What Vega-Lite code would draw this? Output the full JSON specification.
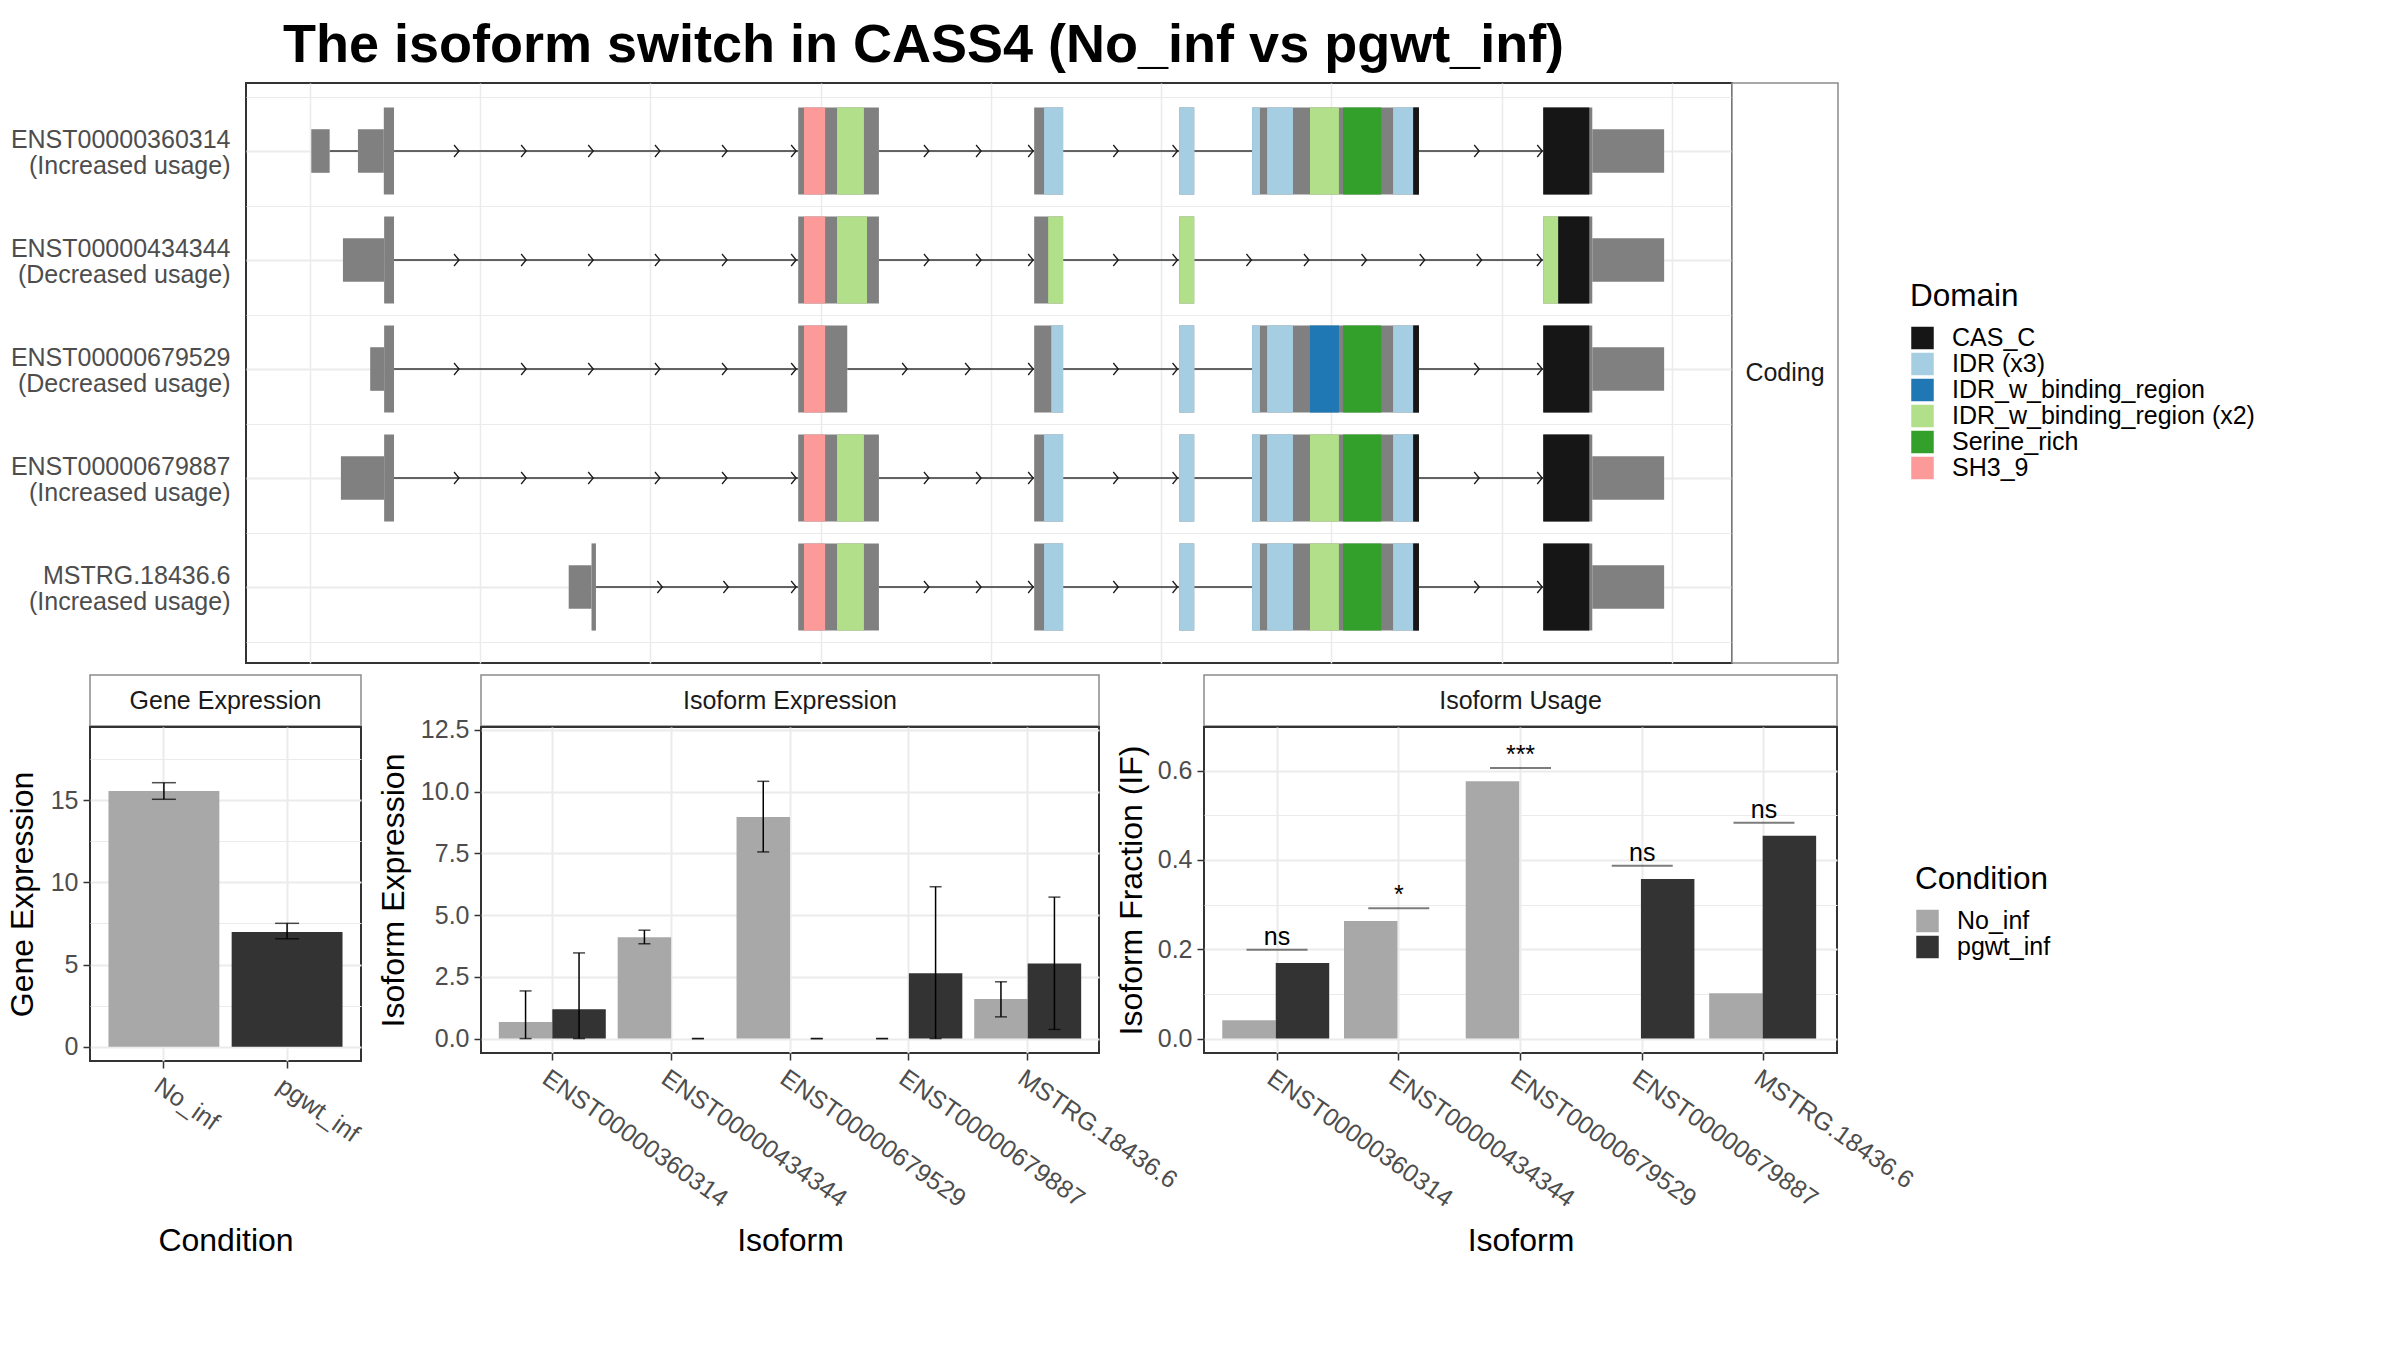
{
  "$schema": "https://vega.github.io/schema/vega-lite/v6.json",
  "background": "white",
  "padding": {"left": 5, "top": 19, "right": 0, "bottom": 0},
  "config": {
    "font": "Liberation Sans",
    "view": {"stroke": "#333333", "strokeWidth": 2},
    "axis": {"labelFontSize": 25, "labelColor": "#4D4D4D", "titleFontSize": 32, "titleColor": "black", "titleFontWeight": "normal", "tickColor": "#333333", "tickSize": 7, "tickWidth": 1.5, "domain": false, "gridColor": "#EBEBEB", "gridWidth": 2, "labelLimit": 0, "labelPadding": 5, "labelOverlap": false},
    "legend": {"padding": 0, "symbolType": "square", "symbolStrokeWidth": 0, "labelFontSize": 25, "labelColor": "black", "titleFontSize": 31.5, "titleFontWeight": "normal", "titleColor": "black", "rowPadding": -4, "labelOffset": 17, "titlePadding": 13, "symbolSize": 506, "labelLimit": 0}
  },
  "title": {"text": "The isoform switch in CASS4 (No_inf vs pgwt_inf)", "anchor": "start", "frame": "group", "dx": 193, "fontSize": 54, "fontWeight": "bold", "color": "black", "offset": 9},
  "datasets": {
    "utr": [
      {"tx": "ENST00000360314\n(Increased usage)", "s": 4, "e": 58},
      {"tx": "ENST00000360314\n(Increased usage)", "s": 141, "e": 217},
      {"tx": "ENST00000360314\n(Increased usage)", "s": 3766, "e": 3977},
      {"tx": "ENST00000434344\n(Decreased usage)", "s": 97, "e": 218},
      {"tx": "ENST00000434344\n(Decreased usage)", "s": 3766, "e": 3977},
      {"tx": "ENST00000679529\n(Decreased usage)", "s": 177, "e": 218},
      {"tx": "ENST00000679529\n(Decreased usage)", "s": 3766, "e": 3977},
      {"tx": "ENST00000679887\n(Increased usage)", "s": 91, "e": 218},
      {"tx": "ENST00000679887\n(Increased usage)", "s": 3766, "e": 3977},
      {"tx": "MSTRG.18436.6\n(Increased usage)", "s": 760, "e": 827},
      {"tx": "MSTRG.18436.6\n(Increased usage)", "s": 3766, "e": 3977}
    ],
    "cds": [
      {"tx": "ENST00000360314\n(Increased usage)", "s": 217, "e": 247},
      {"tx": "ENST00000360314\n(Increased usage)", "s": 1434, "e": 1671},
      {"tx": "ENST00000360314\n(Increased usage)", "s": 2127, "e": 2212},
      {"tx": "ENST00000360314\n(Increased usage)", "s": 2553, "e": 2597},
      {"tx": "ENST00000360314\n(Increased usage)", "s": 2767, "e": 3257},
      {"tx": "ENST00000360314\n(Increased usage)", "s": 3622, "e": 3766},
      {"tx": "ENST00000434344\n(Decreased usage)", "s": 218, "e": 247},
      {"tx": "ENST00000434344\n(Decreased usage)", "s": 1434, "e": 1671},
      {"tx": "ENST00000434344\n(Decreased usage)", "s": 2127, "e": 2212},
      {"tx": "ENST00000434344\n(Decreased usage)", "s": 2553, "e": 2597},
      {"tx": "ENST00000434344\n(Decreased usage)", "s": 3622, "e": 3766},
      {"tx": "ENST00000679529\n(Decreased usage)", "s": 218, "e": 247},
      {"tx": "ENST00000679529\n(Decreased usage)", "s": 1434, "e": 1578},
      {"tx": "ENST00000679529\n(Decreased usage)", "s": 2127, "e": 2212},
      {"tx": "ENST00000679529\n(Decreased usage)", "s": 2553, "e": 2597},
      {"tx": "ENST00000679529\n(Decreased usage)", "s": 2767, "e": 3257},
      {"tx": "ENST00000679529\n(Decreased usage)", "s": 3622, "e": 3766},
      {"tx": "ENST00000679887\n(Increased usage)", "s": 218, "e": 247},
      {"tx": "ENST00000679887\n(Increased usage)", "s": 1434, "e": 1671},
      {"tx": "ENST00000679887\n(Increased usage)", "s": 2127, "e": 2212},
      {"tx": "ENST00000679887\n(Increased usage)", "s": 2553, "e": 2597},
      {"tx": "ENST00000679887\n(Increased usage)", "s": 2767, "e": 3257},
      {"tx": "ENST00000679887\n(Increased usage)", "s": 3622, "e": 3766},
      {"tx": "MSTRG.18436.6\n(Increased usage)", "s": 827, "e": 840},
      {"tx": "MSTRG.18436.6\n(Increased usage)", "s": 1434, "e": 1671},
      {"tx": "MSTRG.18436.6\n(Increased usage)", "s": 2127, "e": 2212},
      {"tx": "MSTRG.18436.6\n(Increased usage)", "s": 2553, "e": 2597},
      {"tx": "MSTRG.18436.6\n(Increased usage)", "s": 2767, "e": 3257},
      {"tx": "MSTRG.18436.6\n(Increased usage)", "s": 3622, "e": 3766}
    ],
    "domains": [
      {"tx": "ENST00000360314\n(Increased usage)", "domain": "SH3_9", "s": 1451, "e": 1513},
      {"tx": "ENST00000360314\n(Increased usage)", "domain": "IDR_w_binding_region (x2)", "s": 1548, "e": 1627},
      {"tx": "ENST00000360314\n(Increased usage)", "domain": "IDR (x3)", "s": 2156, "e": 2212},
      {"tx": "ENST00000360314\n(Increased usage)", "domain": "IDR (x3)", "s": 2553, "e": 2597},
      {"tx": "ENST00000360314\n(Increased usage)", "domain": "IDR (x3)", "s": 2767, "e": 2790},
      {"tx": "ENST00000360314\n(Increased usage)", "domain": "IDR (x3)", "s": 2811, "e": 2887},
      {"tx": "ENST00000360314\n(Increased usage)", "domain": "IDR_w_binding_region (x2)", "s": 2937, "e": 3022},
      {"tx": "ENST00000360314\n(Increased usage)", "domain": "Serine_rich", "s": 3034, "e": 3146},
      {"tx": "ENST00000360314\n(Increased usage)", "domain": "IDR (x3)", "s": 3181, "e": 3240},
      {"tx": "ENST00000360314\n(Increased usage)", "domain": "CAS_C", "s": 3240, "e": 3257},
      {"tx": "ENST00000360314\n(Increased usage)", "domain": "CAS_C", "s": 3622, "e": 3757},
      {"tx": "ENST00000434344\n(Decreased usage)", "domain": "SH3_9", "s": 1451, "e": 1513},
      {"tx": "ENST00000434344\n(Decreased usage)", "domain": "IDR_w_binding_region (x2)", "s": 1548, "e": 1636},
      {"tx": "ENST00000434344\n(Decreased usage)", "domain": "IDR_w_binding_region (x2)", "s": 2168, "e": 2212},
      {"tx": "ENST00000434344\n(Decreased usage)", "domain": "IDR_w_binding_region (x2)", "s": 2553, "e": 2597},
      {"tx": "ENST00000434344\n(Decreased usage)", "domain": "IDR_w_binding_region (x2)", "s": 3622, "e": 3666},
      {"tx": "ENST00000434344\n(Decreased usage)", "domain": "CAS_C", "s": 3666, "e": 3757},
      {"tx": "ENST00000679529\n(Decreased usage)", "domain": "SH3_9", "s": 1451, "e": 1513},
      {"tx": "ENST00000679529\n(Decreased usage)", "domain": "IDR (x3)", "s": 2177, "e": 2212},
      {"tx": "ENST00000679529\n(Decreased usage)", "domain": "IDR (x3)", "s": 2553, "e": 2597},
      {"tx": "ENST00000679529\n(Decreased usage)", "domain": "IDR (x3)", "s": 2767, "e": 2790},
      {"tx": "ENST00000679529\n(Decreased usage)", "domain": "IDR (x3)", "s": 2811, "e": 2887},
      {"tx": "ENST00000679529\n(Decreased usage)", "domain": "IDR_w_binding_region", "s": 2937, "e": 3022},
      {"tx": "ENST00000679529\n(Decreased usage)", "domain": "Serine_rich", "s": 3034, "e": 3146},
      {"tx": "ENST00000679529\n(Decreased usage)", "domain": "IDR (x3)", "s": 3181, "e": 3240},
      {"tx": "ENST00000679529\n(Decreased usage)", "domain": "CAS_C", "s": 3240, "e": 3257},
      {"tx": "ENST00000679529\n(Decreased usage)", "domain": "CAS_C", "s": 3622, "e": 3757},
      {"tx": "ENST00000679887\n(Increased usage)", "domain": "SH3_9", "s": 1451, "e": 1513},
      {"tx": "ENST00000679887\n(Increased usage)", "domain": "IDR_w_binding_region (x2)", "s": 1548, "e": 1627},
      {"tx": "ENST00000679887\n(Increased usage)", "domain": "IDR (x3)", "s": 2156, "e": 2212},
      {"tx": "ENST00000679887\n(Increased usage)", "domain": "IDR (x3)", "s": 2553, "e": 2597},
      {"tx": "ENST00000679887\n(Increased usage)", "domain": "IDR (x3)", "s": 2767, "e": 2790},
      {"tx": "ENST00000679887\n(Increased usage)", "domain": "IDR (x3)", "s": 2811, "e": 2887},
      {"tx": "ENST00000679887\n(Increased usage)", "domain": "IDR_w_binding_region (x2)", "s": 2937, "e": 3022},
      {"tx": "ENST00000679887\n(Increased usage)", "domain": "Serine_rich", "s": 3034, "e": 3146},
      {"tx": "ENST00000679887\n(Increased usage)", "domain": "IDR (x3)", "s": 3181, "e": 3240},
      {"tx": "ENST00000679887\n(Increased usage)", "domain": "CAS_C", "s": 3240, "e": 3257},
      {"tx": "ENST00000679887\n(Increased usage)", "domain": "CAS_C", "s": 3622, "e": 3757},
      {"tx": "MSTRG.18436.6\n(Increased usage)", "domain": "SH3_9", "s": 1451, "e": 1513},
      {"tx": "MSTRG.18436.6\n(Increased usage)", "domain": "IDR_w_binding_region (x2)", "s": 1548, "e": 1627},
      {"tx": "MSTRG.18436.6\n(Increased usage)", "domain": "IDR (x3)", "s": 2156, "e": 2212},
      {"tx": "MSTRG.18436.6\n(Increased usage)", "domain": "IDR (x3)", "s": 2553, "e": 2597},
      {"tx": "MSTRG.18436.6\n(Increased usage)", "domain": "IDR (x3)", "s": 2767, "e": 2790},
      {"tx": "MSTRG.18436.6\n(Increased usage)", "domain": "IDR (x3)", "s": 2811, "e": 2887},
      {"tx": "MSTRG.18436.6\n(Increased usage)", "domain": "IDR_w_binding_region (x2)", "s": 2937, "e": 3022},
      {"tx": "MSTRG.18436.6\n(Increased usage)", "domain": "Serine_rich", "s": 3034, "e": 3146},
      {"tx": "MSTRG.18436.6\n(Increased usage)", "domain": "IDR (x3)", "s": 3181, "e": 3240},
      {"tx": "MSTRG.18436.6\n(Increased usage)", "domain": "CAS_C", "s": 3240, "e": 3257},
      {"tx": "MSTRG.18436.6\n(Increased usage)", "domain": "CAS_C", "s": 3622, "e": 3757}
    ],
    "introns": [
      {"tx": "ENST00000360314\n(Increased usage)", "s": 58, "e": 141},
      {"tx": "ENST00000360314\n(Increased usage)", "s": 247, "e": 1434},
      {"tx": "ENST00000360314\n(Increased usage)", "s": 1671, "e": 2127},
      {"tx": "ENST00000360314\n(Increased usage)", "s": 2212, "e": 2553},
      {"tx": "ENST00000360314\n(Increased usage)", "s": 2597, "e": 2767},
      {"tx": "ENST00000360314\n(Increased usage)", "s": 3257, "e": 3622},
      {"tx": "ENST00000434344\n(Decreased usage)", "s": 247, "e": 1434},
      {"tx": "ENST00000434344\n(Decreased usage)", "s": 1671, "e": 2127},
      {"tx": "ENST00000434344\n(Decreased usage)", "s": 2212, "e": 2553},
      {"tx": "ENST00000434344\n(Decreased usage)", "s": 2597, "e": 3622},
      {"tx": "ENST00000679529\n(Decreased usage)", "s": 247, "e": 1434},
      {"tx": "ENST00000679529\n(Decreased usage)", "s": 1578, "e": 2127},
      {"tx": "ENST00000679529\n(Decreased usage)", "s": 2212, "e": 2553},
      {"tx": "ENST00000679529\n(Decreased usage)", "s": 2597, "e": 2767},
      {"tx": "ENST00000679529\n(Decreased usage)", "s": 3257, "e": 3622},
      {"tx": "ENST00000679887\n(Increased usage)", "s": 247, "e": 1434},
      {"tx": "ENST00000679887\n(Increased usage)", "s": 1671, "e": 2127},
      {"tx": "ENST00000679887\n(Increased usage)", "s": 2212, "e": 2553},
      {"tx": "ENST00000679887\n(Increased usage)", "s": 2597, "e": 2767},
      {"tx": "ENST00000679887\n(Increased usage)", "s": 3257, "e": 3622},
      {"tx": "MSTRG.18436.6\n(Increased usage)", "s": 840, "e": 1434},
      {"tx": "MSTRG.18436.6\n(Increased usage)", "s": 1671, "e": 2127},
      {"tx": "MSTRG.18436.6\n(Increased usage)", "s": 2212, "e": 2553},
      {"tx": "MSTRG.18436.6\n(Increased usage)", "s": 2597, "e": 2767},
      {"tx": "MSTRG.18436.6\n(Increased usage)", "s": 3257, "e": 3622}
    ],
    "arrows": [
      {"tx": "ENST00000360314\n(Increased usage)", "x": 438}, {"tx": "ENST00000360314\n(Increased usage)", "x": 635},
      {"tx": "ENST00000360314\n(Increased usage)", "x": 832}, {"tx": "ENST00000360314\n(Increased usage)", "x": 1028},
      {"tx": "ENST00000360314\n(Increased usage)", "x": 1225}, {"tx": "ENST00000360314\n(Increased usage)", "x": 1428},
      {"tx": "ENST00000360314\n(Increased usage)", "x": 1818}, {"tx": "ENST00000360314\n(Increased usage)", "x": 1971},
      {"tx": "ENST00000360314\n(Increased usage)", "x": 2124}, {"tx": "ENST00000360314\n(Increased usage)", "x": 2374},
      {"tx": "ENST00000360314\n(Increased usage)", "x": 2548}, {"tx": "ENST00000360314\n(Increased usage)", "x": 3434},
      {"tx": "ENST00000360314\n(Increased usage)", "x": 3619},
      {"tx": "ENST00000434344\n(Decreased usage)", "x": 438}, {"tx": "ENST00000434344\n(Decreased usage)", "x": 635},
      {"tx": "ENST00000434344\n(Decreased usage)", "x": 832}, {"tx": "ENST00000434344\n(Decreased usage)", "x": 1028},
      {"tx": "ENST00000434344\n(Decreased usage)", "x": 1225}, {"tx": "ENST00000434344\n(Decreased usage)", "x": 1428},
      {"tx": "ENST00000434344\n(Decreased usage)", "x": 1818}, {"tx": "ENST00000434344\n(Decreased usage)", "x": 1971},
      {"tx": "ENST00000434344\n(Decreased usage)", "x": 2124}, {"tx": "ENST00000434344\n(Decreased usage)", "x": 2374},
      {"tx": "ENST00000434344\n(Decreased usage)", "x": 2548}, {"tx": "ENST00000434344\n(Decreased usage)", "x": 2765},
      {"tx": "ENST00000434344\n(Decreased usage)", "x": 2934}, {"tx": "ENST00000434344\n(Decreased usage)", "x": 3103},
      {"tx": "ENST00000434344\n(Decreased usage)", "x": 3274}, {"tx": "ENST00000434344\n(Decreased usage)", "x": 3441},
      {"tx": "ENST00000434344\n(Decreased usage)", "x": 3618},
      {"tx": "ENST00000679529\n(Decreased usage)", "x": 438}, {"tx": "ENST00000679529\n(Decreased usage)", "x": 635},
      {"tx": "ENST00000679529\n(Decreased usage)", "x": 832}, {"tx": "ENST00000679529\n(Decreased usage)", "x": 1028},
      {"tx": "ENST00000679529\n(Decreased usage)", "x": 1225}, {"tx": "ENST00000679529\n(Decreased usage)", "x": 1428},
      {"tx": "ENST00000679529\n(Decreased usage)", "x": 1754}, {"tx": "ENST00000679529\n(Decreased usage)", "x": 1939},
      {"tx": "ENST00000679529\n(Decreased usage)", "x": 2124}, {"tx": "ENST00000679529\n(Decreased usage)", "x": 2374},
      {"tx": "ENST00000679529\n(Decreased usage)", "x": 2548}, {"tx": "ENST00000679529\n(Decreased usage)", "x": 3434},
      {"tx": "ENST00000679529\n(Decreased usage)", "x": 3619},
      {"tx": "ENST00000679887\n(Increased usage)", "x": 438}, {"tx": "ENST00000679887\n(Increased usage)", "x": 635},
      {"tx": "ENST00000679887\n(Increased usage)", "x": 832}, {"tx": "ENST00000679887\n(Increased usage)", "x": 1028},
      {"tx": "ENST00000679887\n(Increased usage)", "x": 1225}, {"tx": "ENST00000679887\n(Increased usage)", "x": 1428},
      {"tx": "ENST00000679887\n(Increased usage)", "x": 1818}, {"tx": "ENST00000679887\n(Increased usage)", "x": 1971},
      {"tx": "ENST00000679887\n(Increased usage)", "x": 2124}, {"tx": "ENST00000679887\n(Increased usage)", "x": 2374},
      {"tx": "ENST00000679887\n(Increased usage)", "x": 2548}, {"tx": "ENST00000679887\n(Increased usage)", "x": 3434},
      {"tx": "ENST00000679887\n(Increased usage)", "x": 3619},
      {"tx": "MSTRG.18436.6\n(Increased usage)", "x": 1035}, {"tx": "MSTRG.18436.6\n(Increased usage)", "x": 1229},
      {"tx": "MSTRG.18436.6\n(Increased usage)", "x": 1428}, {"tx": "MSTRG.18436.6\n(Increased usage)", "x": 1818},
      {"tx": "MSTRG.18436.6\n(Increased usage)", "x": 1971}, {"tx": "MSTRG.18436.6\n(Increased usage)", "x": 2124},
      {"tx": "MSTRG.18436.6\n(Increased usage)", "x": 2374}, {"tx": "MSTRG.18436.6\n(Increased usage)", "x": 2548},
      {"tx": "MSTRG.18436.6\n(Increased usage)", "x": 3434}, {"tx": "MSTRG.18436.6\n(Increased usage)", "x": 3619}
    ],
    "gene": [
      {"Condition": "No_inf", "value": 15.56, "lo": 15.06, "hi": 16.07},
      {"Condition": "pgwt_inf", "value": 6.98, "lo": 6.57, "hi": 7.51}
    ],
    "isoexp": [
      {"Isoform": "ENST00000360314", "Condition": "No_inf", "value": 0.67, "lo": 0, "hi": 1.93},
      {"Isoform": "ENST00000360314", "Condition": "pgwt_inf", "value": 1.19, "lo": 0, "hi": 3.47},
      {"Isoform": "ENST00000434344", "Condition": "No_inf", "value": 4.10, "lo": 3.84, "hi": 4.39},
      {"Isoform": "ENST00000434344", "Condition": "pgwt_inf", "value": 0, "lo": 0, "hi": 0},
      {"Isoform": "ENST00000679529", "Condition": "No_inf", "value": 8.97, "lo": 7.56, "hi": 10.42},
      {"Isoform": "ENST00000679529", "Condition": "pgwt_inf", "value": 0, "lo": 0, "hi": 0},
      {"Isoform": "ENST00000679887", "Condition": "No_inf", "value": 0, "lo": 0, "hi": 0},
      {"Isoform": "ENST00000679887", "Condition": "pgwt_inf", "value": 2.65, "lo": 0, "hi": 6.15},
      {"Isoform": "MSTRG.18436.6", "Condition": "No_inf", "value": 1.60, "lo": 0.88, "hi": 2.30},
      {"Isoform": "MSTRG.18436.6", "Condition": "pgwt_inf", "value": 3.04, "lo": 0.37, "hi": 5.73}
    ],
    "usage": [
      {"Isoform": "ENST00000360314", "Condition": "No_inf", "IF": 0.041},
      {"Isoform": "ENST00000360314", "Condition": "pgwt_inf", "IF": 0.169},
      {"Isoform": "ENST00000434344", "Condition": "No_inf", "IF": 0.263},
      {"Isoform": "ENST00000434344", "Condition": "pgwt_inf", "IF": 0},
      {"Isoform": "ENST00000679529", "Condition": "No_inf", "IF": 0.576},
      {"Isoform": "ENST00000679529", "Condition": "pgwt_inf", "IF": 0},
      {"Isoform": "ENST00000679887", "Condition": "No_inf", "IF": 0},
      {"Isoform": "ENST00000679887", "Condition": "pgwt_inf", "IF": 0.357},
      {"Isoform": "MSTRG.18436.6", "Condition": "No_inf", "IF": 0.1015},
      {"Isoform": "MSTRG.18436.6", "Condition": "pgwt_inf", "IF": 0.454}
    ],
    "sig": [
      {"Isoform": "ENST00000360314", "y": 0.199, "label": "ns"},
      {"Isoform": "ENST00000434344", "y": 0.292, "label": "*"},
      {"Isoform": "ENST00000679529", "y": 0.6055, "label": "***"},
      {"Isoform": "ENST00000679887", "y": 0.387, "label": "ns"},
      {"Isoform": "MSTRG.18436.6", "y": 0.483, "label": "ns"}
    ]
  },
  "spacing": -13,
  "resolve": {"scale": {"color": "independent"}},
  "vconcat": [
    {
      "spacing": 0,
      "bounds": "flush",
      "resolve": {"scale": {"color": "independent"}},
      "hconcat": [
        {"width": 156, "height": 592, "data": {"values": [{"a": 1}]}, "mark": {"type": "point", "opacity": 0}, "encoding": {}, "view": {"stroke": null}},
        {
          "width": 1486, "height": 580,
          "resolve": {"axis": {"y": "independent"}},
          "layer": [
            {
              "data": {"name": "introns"},
              "mark": {"type": "rule", "color": "#333333", "strokeWidth": 1.5},
              "encoding": {
                "x": {"field": "s", "type": "quantitative", "scale": {"domain": [-187.7, 4176.3], "nice": false, "zero": false},
                      "axis": {"values": [0, 500, 1000, 1500, 2000, 2500, 3000, 3500, 4000], "labels": false, "ticks": false, "title": null, "grid": true, "gridWidth": 1.5}},
                "x2": {"field": "e"},
                "y": {"field": "tx", "type": "nominal",
                      "scale": {"domain": ["ENST00000360314\n(Increased usage)", "ENST00000434344\n(Decreased usage)", "ENST00000679529\n(Decreased usage)", "ENST00000679887\n(Increased usage)", "MSTRG.18436.6\n(Increased usage)"], "paddingInner": 0, "paddingOuter": 0.1606, "align": 0.386},
                      "axis": {"title": null, "labelExpr": "split(datum.label, '\\n')", "labelLineHeight": 26, "labelOffset": -11, "ticks": false, "tickSize": 0, "labelPadding": 16, "grid": true, "gridWidth": 2, "labelAlign": "right", "labelBaseline": "middle"}}
              }
            },
            {
              "data": {"name": "arrows"},
              "mark": {"type": "point", "shape": "M-1,-1.2L0,0L-1,1.2", "filled": false, "color": "#1A1A1A", "strokeWidth": 1.3, "size": 100, "opacity": 1},
              "encoding": {
                "x": {"field": "x", "type": "quantitative"},
                "y": {"field": "tx", "type": "nominal", "axis": null}
              }
            },
            {
              "data": {"name": "utr"},
              "mark": {"type": "bar", "height": {"band": 0.4}, "color": "#808080"},
              "encoding": {
                "x": {"field": "s", "type": "quantitative"},
                "x2": {"field": "e"},
                "y": {"field": "tx", "type": "nominal", "axis": {"orient": "right", "tickBand": "extent", "labels": false, "ticks": false, "title": null, "grid": true, "gridWidth": 1}}
              }
            },
            {
              "data": {"name": "cds"},
              "mark": {"type": "bar", "height": {"band": 0.8}, "color": "#808080"},
              "encoding": {
                "x": {"field": "s", "type": "quantitative"},
                "x2": {"field": "e"},
                "y": {"field": "tx", "type": "nominal", "axis": null}
              }
            },
            {
              "data": {"name": "domains"},
              "mark": {"type": "bar", "height": {"band": 0.8}},
              "encoding": {
                "x": {"field": "s", "type": "quantitative"},
                "x2": {"field": "e"},
                "y": {"field": "tx", "type": "nominal", "axis": null},
                "color": {"field": "domain", "type": "nominal",
                          "scale": {"domain": ["CAS_C", "IDR (x3)", "IDR_w_binding_region", "IDR_w_binding_region (x2)", "Serine_rich", "SH3_9"], "range": ["#161616", "#A6CEE3", "#1F78B4", "#B2DF8A", "#33A02C", "#FB9A99"]},
                          "legend": {"title": "Domain", "orient": "none", "legendX": 1664, "legendY": 198}}
              }
            }
          ]
        },
        {
          "width": 106, "height": 580,
          "data": {"values": [{"label": "Coding"}]},
          "mark": {"type": "text", "fontSize": 25, "color": "#1A1A1A", "baseline": "middle"},
          "encoding": {"text": {"field": "label"}},
          "view": {"stroke": "#8C8C8C", "strokeWidth": 1.5, "fill": "white"}
        }
      ]
    },
    {
      "spacing": 0,
      "bounds": "flush",
      "hconcat": [
        {
          "width": 271, "height": 51,
          "data": {"values": [{"label": "Gene Expression"}]},
          "mark": {"type": "text", "fontSize": 25, "color": "#1A1A1A", "baseline": "middle"},
          "encoding": {"text": {"field": "label"}},
          "view": {"stroke": "#8C8C8C", "strokeWidth": 1.5, "fill": "white"}
        },
        {"width": 120, "height": 1, "data": {"values": [{"a": 1}]}, "mark": {"type": "point", "opacity": 0}, "encoding": {}, "view": {"stroke": null}},
        {
          "width": 618, "height": 51,
          "data": {"values": [{"label": "Isoform Expression"}]},
          "mark": {"type": "text", "fontSize": 25, "color": "#1A1A1A", "baseline": "middle"},
          "encoding": {"text": {"field": "label"}},
          "view": {"stroke": "#8C8C8C", "strokeWidth": 1.5, "fill": "white"}
        },
        {"width": 105, "height": 1, "data": {"values": [{"a": 1}]}, "mark": {"type": "point", "opacity": 0}, "encoding": {}, "view": {"stroke": null}},
        {
          "width": 633, "height": 51,
          "data": {"values": [{"label": "Isoform Usage"}]},
          "mark": {"type": "text", "fontSize": 25, "color": "#1A1A1A", "baseline": "middle"},
          "encoding": {"text": {"field": "label"}},
          "view": {"stroke": "#8C8C8C", "strokeWidth": 1.5, "fill": "white"}
        }
      ]
    },
    {
      "spacing": 0,
      "bounds": "flush",
      "resolve": {"scale": {"color": "independent"}},
      "hconcat": [
        {
          "width": 271, "height": 334,
          "data": {"name": "gene"},
          "layer": [
            {
              "mark": {"type": "bar"},
              "encoding": {
                "x": {"field": "Condition", "type": "nominal", "scale": {"paddingInner": 0.1, "paddingOuter": 0.15},
                      "axis": {"title": "Condition", "labelAngle": 35, "labelAlign": "left", "labelBaseline": "top", "grid": true, "titleY": 179, "titleBaseline": "middle"}},
                "y": {"field": "value", "type": "quantitative", "scale": {"domain": [-0.87, 19.46], "nice": false, "zero": false},
                      "axis": {"title": "Gene Expression", "values": [0, 2.5, 5, 7.5, 10, 12.5, 15, 17.5],
                               "labelExpr": "datum.value % 5 === 0 ? datum.label : ''",
                               "gridWidth": {"condition": {"test": "datum.value % 5 === 0", "value": 2}, "value": 1},
                               "tickOpacity": {"condition": {"test": "datum.value % 5 === 0", "value": 1}, "value": 0},
                               "titleX": -68, "titleBaseline": "middle"}},
                "color": {"field": "Condition", "type": "nominal", "scale": {"domain": ["No_inf", "pgwt_inf"], "range": ["#A8A8A8", "#333333"]}, "legend": null}
              }
            },
            {
              "mark": {"type": "rule", "color": "black", "strokeWidth": 1.5},
              "encoding": {"x": {"field": "Condition", "type": "nominal"}, "y": {"field": "lo", "type": "quantitative"}, "y2": {"field": "hi"}}
            },
            {
              "mark": {"type": "tick", "color": "black", "thickness": 1.5, "size": 24},
              "encoding": {"x": {"field": "Condition", "type": "nominal"}, "y": {"field": "lo", "type": "quantitative"}}
            },
            {
              "mark": {"type": "tick", "color": "black", "thickness": 1.5, "size": 24},
              "encoding": {"x": {"field": "Condition", "type": "nominal"}, "y": {"field": "hi", "type": "quantitative"}}
            }
          ]
        },
        {"width": 120, "height": 1, "data": {"values": [{"a": 1}]}, "mark": {"type": "point", "opacity": 0}, "encoding": {}, "view": {"stroke": null}},
        {
          "width": 618, "height": 326,
          "data": {"name": "isoexp"},
          "layer": [
            {
              "mark": {"type": "bar"},
              "encoding": {
                "x": {"field": "Isoform", "type": "nominal", "scale": {"paddingInner": 0.1, "paddingOuter": 0.15},
                      "axis": {"title": "Isoform", "labelAngle": 35, "labelAlign": "left", "labelBaseline": "top", "grid": true, "titleY": 187, "titleBaseline": "middle"}},
                "xOffset": {"field": "Condition", "type": "nominal", "scale": {"paddingInner": 0, "paddingOuter": 0}},
                "y": {"field": "value", "type": "quantitative", "scale": {"domain": [-0.584, 12.62], "nice": false, "zero": false},
                      "axis": {"title": "Isoform Expression", "values": [0, 1.25, 2.5, 3.75, 5, 6.25, 7.5, 8.75, 10, 11.25, 12.5], "format": ".1f",
                               "labelExpr": "datum.value % 2.5 === 0 ? datum.label : ''",
                               "gridWidth": {"condition": {"test": "datum.value % 2.5 === 0", "value": 2}, "value": 1},
                               "tickOpacity": {"condition": {"test": "datum.value % 2.5 === 0", "value": 1}, "value": 0},
                               "titleX": -88, "titleBaseline": "middle"}},
                "color": {"field": "Condition", "type": "nominal", "scale": {"domain": ["No_inf", "pgwt_inf"], "range": ["#A8A8A8", "#333333"]}, "legend": null}
              }
            },
            {
              "mark": {"type": "rule", "color": "black", "strokeWidth": 1.5},
              "encoding": {"x": {"field": "Isoform", "type": "nominal"}, "xOffset": {"field": "Condition", "type": "nominal"}, "y": {"field": "lo", "type": "quantitative"}, "y2": {"field": "hi"}}
            },
            {
              "mark": {"type": "tick", "color": "black", "thickness": 1.5, "size": 12},
              "encoding": {"x": {"field": "Isoform", "type": "nominal"}, "xOffset": {"field": "Condition", "type": "nominal"}, "y": {"field": "lo", "type": "quantitative"}}
            },
            {
              "mark": {"type": "tick", "color": "black", "thickness": 1.5, "size": 12},
              "encoding": {"x": {"field": "Isoform", "type": "nominal"}, "xOffset": {"field": "Condition", "type": "nominal"}, "y": {"field": "hi", "type": "quantitative"}}
            }
          ]
        },
        {"width": 105, "height": 1, "data": {"values": [{"a": 1}]}, "mark": {"type": "point", "opacity": 0}, "encoding": {}, "view": {"stroke": null}},
        {
          "width": 633, "height": 326,
          "layer": [
            {
              "data": {"name": "usage"},
              "mark": {"type": "bar"},
              "encoding": {
                "x": {"field": "Isoform", "type": "nominal", "scale": {"paddingInner": 0.1, "paddingOuter": 0.15},
                      "axis": {"title": "Isoform", "labelAngle": 35, "labelAlign": "left", "labelBaseline": "top", "grid": true, "titleY": 187, "titleBaseline": "middle"}},
                "xOffset": {"field": "Condition", "type": "nominal", "scale": {"paddingInner": 0, "paddingOuter": 0}},
                "y": {"field": "IF", "type": "quantitative", "scale": {"domain": [-0.0323, 0.6975], "nice": false, "zero": false},
                      "axis": {"title": "Isoform Fraction (IF)", "values": [0, 0.1, 0.2, 0.3, 0.4, 0.5, 0.6], "format": ".1f",
                               "labelExpr": "round(datum.value * 10) % 2 === 0 ? datum.label : ''",
                               "gridWidth": {"condition": {"test": "round(datum.value * 10) % 2 === 0", "value": 2}, "value": 1},
                               "tickOpacity": {"condition": {"test": "round(datum.value * 10) % 2 === 0", "value": 1}, "value": 0},
                               "titleX": -73, "titleBaseline": "middle"}},
                "color": {"field": "Condition", "type": "nominal", "scale": {"domain": ["No_inf", "pgwt_inf"], "range": ["#A8A8A8", "#333333"]},
                          "legend": {"title": "Condition", "orient": "none", "legendX": 711, "legendY": 137}}
              }
            },
            {
              "data": {"name": "sig"},
              "mark": {"type": "tick", "color": "#444444", "thickness": 2, "size": 61},
              "encoding": {"x": {"field": "Isoform", "type": "nominal"}, "y": {"field": "y", "type": "quantitative"}}
            },
            {
              "data": {"name": "sig"},
              "mark": {"type": "text", "fontSize": 25, "color": "black", "baseline": "alphabetic", "dy": -5},
              "encoding": {"x": {"field": "Isoform", "type": "nominal"}, "y": {"field": "y", "type": "quantitative"}, "text": {"field": "label"}}
            }
          ]
        }
      ]
    }
  ]
}
